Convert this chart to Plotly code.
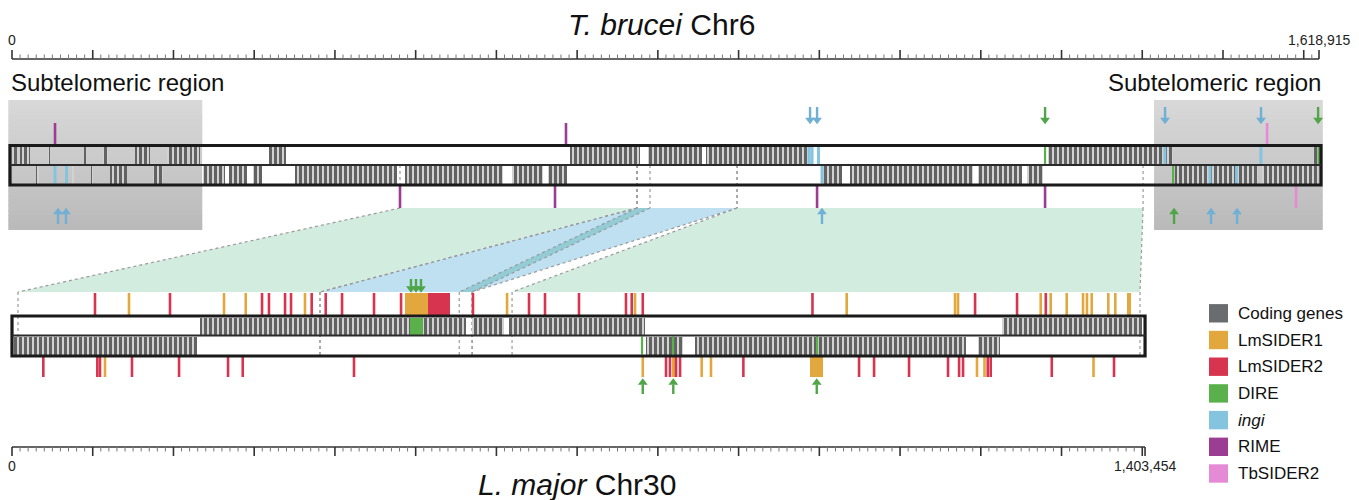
import plotly.graph_objects as go

# ------------------------------------------------------------------ DATA (kb)
TB_LEN = 1618.915          # T. brucei Chr6 length (kb)
LM_LEN = 1403.454          # L. major Chr30 length (kb)
TB_TICK_LABELS = ["0", "1,618,915"]
LM_TICK_LABELS = ["0", "1,403,454"]

SUBTELOMERIC = [(-4.6, 235.7), (1414.6, 1623.6)]

# coding-gene clusters (start, end) kb
TB_GENES_PLUS = [(1, 6), (10, 22), (45, 47), (89, 92), (113, 119), (152, 171), (192, 217),
                 (220, 233), (318, 339), (691, 778), (788, 855), (860, 986), (1283, 1438),
                 (1611, 1617)]
TB_GENES_MINUS = [(30, 33), (74, 77), (98, 100), (121, 142), (175, 187), (237, 264), (269, 291),
                  (298, 310), (351, 477), (487, 608), (619, 658), (664, 688), (1005, 1028),
                  (1038, 1190), (1197, 1251), (1257, 1277), (1441, 1543), (1548, 1618)]
LM_GENES_PLUS = [(233, 562), (570, 609), (616, 784), (1226, 1400)]
LM_GENES_MINUS = [(2.5, 229), (785, 831), (846, 1182), (1197, 1224)]

# elements inside the strands (kb)
TB_INGI_IN_PLUS = [987.5, 991.0, 999.0, 1428.0, 1547.0]
TB_INGI_IN_MINUS = [53.3, 67.5, 1003.3, 1483.9, 1516.8]
TB_DIRE_IN_PLUS = [1279.6, 1618.5]
TB_DIRE_IN_MINUS = [1438.2]
LM_DIRE_IN_PLUS = [(493.0, 509.0)]
LM_DIRE_IN_MINUS = [780.4, 818.8, 997.2]

# T. brucei repeat marks
TB_RIME_ABOVE = [53.3, 686.2]
TB_RIME_BELOW = [480.6, 672.6, 997.2, 1279.6]
TB_SIDER2_ABOVE = [1554.6]
TB_SIDER2_BELOW = [1590.5]
TB_INGI_ARROWS_ABOVE = [988.5, 997.2, 1428.2, 1547.1]
TB_DIRE_ARROWS_ABOVE = [1279.6, 1617.8]
TB_INGI_ARROWS_BELOW = [57.0, 66.9, 1003.3, 1485.2, 1517.4]
TB_DIRE_ARROWS_BELOW = [1439.4]

# L. major repeat marks
LM_SIDER2_ABOVE = [102.8, 195.7, 309.7, 318.3, 338.2, 345.6, 371.2, 388.6, 408.8, 448.4, 481.9,
                   571.0, 640.4, 660.2, 702.3, 760.5, 767.6, 781.3, 991.5, 1192.9, 1244.9, 1280.5]
LM_SIDER2_ABOVE_BLOCKS = [(515.3, 542.5)]
LM_SIDER1_ABOVE = [144.9, 262.6, 289.5, 362.9, 613.2, 771.7, 1033.9, 1168.1, 1171.8, 1274.2,
                   1286.6, 1306.4, 1326.6, 1331.5, 1337.4, 1357.9, 1366.6]
LM_SIDER1_ABOVE_BLOCKS = [(486.8, 515.3), (1381.2, 1386.2)]
LM_SIDER2_BELOW = [38.8, 105.7, 109.0, 148.6, 206.9, 267.6, 285.8, 423.6, 810.1, 815.0, 822.5,
                   827.5, 905.9, 1049.2, 1067.8, 1111.1, 1159.4, 1173.1, 1178.0, 1208.6, 1212.3,
                   1287.9, 1365.0]
LM_SIDER1_BELOW = [115.2, 781.3, 854.3, 865.8, 1195.3, 1204.6, 1339.6]
LM_SIDER1_BELOW_BLOCKS = [(817.5, 822.5), (988.5, 1004.6)]
LM_DIRE_ARROWS_ABOVE = [494.2, 500.4, 506.6]
LM_DIRE_ARROWS_BELOW = [781.3, 819.1, 996.8]

# synteny blocks: T. brucei start/end -> L. major start/end (kb)
SYN_TB_START = [480.6, 774.2, 774.2, 898.1]
SYN_TB_END = [774.2, 898.1, 790.3, 1401.0]
SYN_LM_START = [7.4, 381.5, 554.0, 619.4]
SYN_LM_END = [381.5, 569.8, 570.0, 1397.2]
SYN_KIND = ["collinear", "ingi", "overlap", "collinear"]

LEGEND_NAMES = ["Coding genes", "LmSIDER1", "LmSIDER2", "DIRE", "<i>ingi</i>", "RIME", "TbSIDER2"]

# ------------------------------------------------------------------ STYLE
C_GENE = "#6b6c6f"
C_SIDER1 = "#e2a83d"
C_SIDER2 = "#d6344f"
C_DIRE = "#5ab04b"
C_INGI = "#84c4df"
C_RIME = "#9b3d92"
C_TBSIDER2 = "#e58bd6"
C_INGI_ARROW = "#6fb0d4"
C_DIRE_ARROW = "#4fa548"
LEGEND_COLORS = [C_GENE, C_SIDER1, C_SIDER2, C_DIRE, C_INGI, C_RIME, C_TBSIDER2]
RIBBON_COLORS = {"collinear": "#d3ece0", "ingi": "#bee0f1", "overlap": "#93ccd5"}
FONT = "Liberation Sans, Arial, Helvetica, sans-serif"

# page geometry (the html body adds an 8 px margin)
W, H = 1359, 500
OFF = 8
FIG_W, FIG_H = W - OFF, H - OFF
X0_PX = 12.0
KB_PER_PX = TB_LEN / 1307.0
X_RANGE = [(OFF - X0_PX) * KB_PER_PX, (W - X0_PX) * KB_PER_PX]


def px2kb(px):
    return (px - X0_PX) * KB_PER_PX


def px2paper(px):
    return (px - OFF) / FIG_W


TB_RULER_Y, LM_RULER_Y = 59, 447
TB_BOX, TB_MID = (145.5, 185.0), 165.0
TB_PLUS, TB_MINUS = (147.0, 164.0), (166.0, 183.5)
LM_BOX, LM_MID = (316.0, 356.0), 335.5
LM_PLUS, LM_MINUS = (317.5, 334.5), (336.5, 354.5)
RIB_TOP, RIB_BOT = 208.0, 292.0
SUB_Y = (100.0, 230.0)
TB_ABOVE, TB_BELOW = (123, 145), (186, 208)
LM_ABOVE, LM_BELOW = (293, 315), (357, 377)

fig = go.Figure()
shapes = []
annotations = []

# subtelomeric grey regions (vertical gradient as thin bands)
NB = 26
for (a, b) in SUBTELOMERIC:
    for i in range(NB):
        ya = SUB_Y[0] + (SUB_Y[1] - SUB_Y[0]) * i / NB
        yb = SUB_Y[0] + (SUB_Y[1] - SUB_Y[0]) * (i + 1) / NB
        v = round(216 - (216 - 186) * i / (NB - 1))
        shapes.append(dict(type="rect", xref="x", yref="y", x0=a, x1=b, y0=ya,
                           y1=min(yb + 0.6, SUB_Y[1]),
                           fillcolor="#%02x%02x%02x" % (v, v, v), line=dict(width=0), layer="below"))

# white chromosome backgrounds
shapes.append(dict(type="rect", xref="x", yref="y", x0=SUBTELOMERIC[0][1], x1=SUBTELOMERIC[1][0],
                   y0=TB_BOX[0], y1=TB_BOX[1], fillcolor="white", line=dict(width=0), layer="below"))
shapes.append(dict(type="rect", xref="x", yref="y", x0=0, x1=LM_LEN,
                   y0=LM_BOX[0], y1=LM_BOX[1], fillcolor="white", line=dict(width=0), layer="below"))

# synteny ribbons
for ts, te, ls, le, k in zip(SYN_TB_START, SYN_TB_END, SYN_LM_START, SYN_LM_END, SYN_KIND):
    path = f"M {ts},{RIB_TOP} L {te},{RIB_TOP} L {le},{RIB_BOT} L {ls},{RIB_BOT} Z"
    shapes.append(dict(type="path", xref="x", yref="y", path=path, fillcolor=RIBBON_COLORS[k],
                       line=dict(width=0), layer="below"))
dot = dict(color="#9a9a9a", width=1.2, dash="dot")
for ts, te, ls, le in zip(SYN_TB_START, SYN_TB_END, SYN_LM_START, SYN_LM_END):
    for t, l in ((ts, ls), (te, le)):
        shapes.append(dict(type="line", xref="x", yref="y", x0=t, x1=l, y0=RIB_TOP, y1=RIB_BOT,
                           line=dot, layer="below"))
        shapes.append(dict(type="line", xref="x", yref="y", x0=t, x1=t, y0=TB_MID, y1=RIB_TOP,
                           line=dot, layer="below"))
        shapes.append(dict(type="line", xref="x", yref="y", x0=l, x1=l, y0=RIB_BOT, y1=LM_BOX[1] - 1,
                           line=dot, layer="below"))


# ---------------------------------------------------------------- helpers
def add_blocks(intervals, yr, color, pattern=False):
    if not intervals:
        return
    marker = dict(color=color, line=dict(width=0))
    if pattern:
        marker = dict(color="#d0d0d0", line=dict(width=0),
                      pattern=dict(shape="|", fgcolor="#626262", bgcolor="#d2d2d2",
                                   size=5, solidity=0.6, fillmode="replace"))
    fig.add_trace(go.Bar(orientation="h", base=[s for s, e in intervals],
                         x=[e - s for s, e in intervals],
                         y=[(yr[0] + yr[1]) / 2] * len(intervals),
                         width=[yr[1] - yr[0]] * len(intervals),
                         marker=marker, hoverinfo="skip"))


def add_ticks(xs, yr, color, width=2.6):
    xx, yy = [], []
    for p in xs:
        xx += [p, p, None]
        yy += [yr[0], yr[1], None]
    fig.add_trace(go.Scatter(x=xx, y=yy, mode="lines", line=dict(color=color, width=width),
                             hoverinfo="skip"))


def add_arrows(xs, tail, tip, color):
    down = tip > tail
    head = 6
    stem_end = tip - head if down else tip + head
    add_ticks(xs, (tail, stem_end + (1 if down else -1)), color, 2.4)
    fig.add_trace(go.Scatter(x=xs, y=[(tip - head / 2) if down else (tip + head / 2)] * len(xs),
                             mode="markers",
                             marker=dict(symbol="triangle-down" if down else "triangle-up",
                                         size=8.5, color=color, line=dict(width=0)),
                             hoverinfo="skip"))


# coding genes
add_blocks(TB_GENES_PLUS, TB_PLUS, C_GENE, pattern=True)
add_blocks(TB_GENES_MINUS, TB_MINUS, C_GENE, pattern=True)
add_blocks(LM_GENES_PLUS, LM_PLUS, C_GENE, pattern=True)
add_blocks(LM_GENES_MINUS, LM_MINUS, C_GENE, pattern=True)

# element blocks
add_blocks(LM_DIRE_IN_PLUS, LM_PLUS, C_DIRE)
add_blocks(LM_SIDER2_ABOVE_BLOCKS, LM_ABOVE, C_SIDER2)
add_blocks(LM_SIDER1_ABOVE_BLOCKS, LM_ABOVE, C_SIDER1)
add_blocks(LM_SIDER1_BELOW_BLOCKS, LM_BELOW, C_SIDER1)

# in-strand element lines
add_ticks(TB_INGI_IN_PLUS, TB_PLUS, C_INGI, 3)
add_ticks(TB_INGI_IN_MINUS, TB_MINUS, C_INGI, 3)
add_ticks(TB_DIRE_IN_PLUS, TB_PLUS, C_DIRE, 2.2)
add_ticks(TB_DIRE_IN_MINUS, TB_MINUS, C_DIRE, 2.2)
add_ticks(LM_DIRE_IN_MINUS, LM_MINUS, C_DIRE, 2.2)

# repeat ticks
add_ticks(TB_RIME_ABOVE, TB_ABOVE, C_RIME)
add_ticks(TB_RIME_BELOW, TB_BELOW, C_RIME)
add_ticks(TB_SIDER2_ABOVE, TB_ABOVE, C_TBSIDER2)
add_ticks(TB_SIDER2_BELOW, TB_BELOW, C_TBSIDER2)
add_ticks(LM_SIDER2_ABOVE, LM_ABOVE, C_SIDER2)
add_ticks(LM_SIDER1_ABOVE, LM_ABOVE, C_SIDER1)
add_ticks(LM_SIDER2_BELOW, LM_BELOW, C_SIDER2)
add_ticks(LM_SIDER1_BELOW, LM_BELOW, C_SIDER1)

# arrows
add_arrows(TB_INGI_ARROWS_ABOVE, 107, 123, C_INGI_ARROW)
add_arrows(TB_DIRE_ARROWS_ABOVE, 107, 123, C_DIRE_ARROW)
add_arrows(TB_INGI_ARROWS_BELOW, 224, 209, C_INGI_ARROW)
add_arrows(TB_DIRE_ARROWS_BELOW, 224, 209, C_DIRE_ARROW)
add_arrows(LM_DIRE_ARROWS_ABOVE, 279, 291.5, C_DIRE_ARROW)
add_arrows(LM_DIRE_ARROWS_BELOW, 394, 379.5, C_DIRE_ARROW)

# chromosome frames
for (x0, x1), (y0, y1), ym in (((px2kb(10), px2kb(1321)), TB_BOX, TB_MID),
                               ((0, LM_LEN), LM_BOX, LM_MID)):
    shapes.append(dict(type="rect", xref="x", yref="y", x0=x0, x1=x1, y0=y0, y1=y1,
                       fillcolor="rgba(0,0,0,0)", line=dict(color="#1a1a1a", width=3.2), layer="above"))
    shapes.append(dict(type="line", xref="x", yref="y", x0=x0, x1=x1, y0=ym, y1=ym,
                       line=dict(color="#2a2a2a", width=2), layer="above"))


# rulers
def ruler(length, y, direction):
    xs_maj, ys_maj, xs_min, ys_min = [], [], [], []
    k = 0
    while k * 10 <= length + 1e-9:
        p = k * 10
        if k % 10 == 0:
            xs_maj += [p, p, None]
            ys_maj += [y, y + direction * 9, None]
        else:
            xs_min += [p, p, None]
            ys_min += [y, y + direction * 4.5, None]
        k += 1
    xs_maj += [length, length, None]
    ys_maj += [y, y + direction * 9, None]
    fig.add_trace(go.Scatter(x=[0, length], y=[y, y], mode="lines",
                             line=dict(color="#333333", width=1.6), hoverinfo="skip"))
    fig.add_trace(go.Scatter(x=xs_maj, y=ys_maj, mode="lines",
                             line=dict(color="#333333", width=1.6), hoverinfo="skip"))
    fig.add_trace(go.Scatter(x=xs_min, y=ys_min, mode="lines",
                             line=dict(color="#777777", width=1), hoverinfo="skip"))


ruler(TB_LEN, TB_RULER_Y, -1)
ruler(LM_LEN, LM_RULER_Y, 1)

for x, t in zip([0, TB_LEN], TB_TICK_LABELS):
    annotations.append(dict(x=x, y=39.5, xref="x", yref="y", text=t, showarrow=False,
                            font=dict(size=14, color="#222", family=FONT)))
for x, t in zip([0, LM_LEN], LM_TICK_LABELS):
    annotations.append(dict(x=x, y=466, xref="x", yref="y", text=t, showarrow=False,
                            font=dict(size=14, color="#222", family=FONT)))

annotations.append(dict(x=px2paper(661), y=24, xref="paper", yref="y", text="<i>T. brucei</i> Chr6",
                        showarrow=False, font=dict(size=30, color="#111", family=FONT)))
annotations.append(dict(x=px2paper(577), y=484, xref="paper", yref="y", text="<i>L. major</i> Chr30",
                        showarrow=False, font=dict(size=30, color="#111", family=FONT)))
annotations.append(dict(x=px2paper(9), y=82, xref="paper", yref="y", text="Subtelomeric region",
                        xanchor="left", showarrow=False, font=dict(size=24, color="#111", family=FONT)))
annotations.append(dict(x=px2paper(1323), y=82, xref="paper", yref="y", text="Subtelomeric region",
                        xanchor="right", showarrow=False, font=dict(size=24, color="#111", family=FONT)))

# legend
for i, (name, col) in enumerate(zip(LEGEND_NAMES, LEGEND_COLORS)):
    cy = 313.3 + i * 26.7
    shapes.append(dict(type="rect", xref="paper", yref="y", x0=px2paper(1209), x1=px2paper(1228),
                       y0=cy - 9.2, y1=cy + 9.2, fillcolor=col, line=dict(width=0), layer="above"))
    annotations.append(dict(x=px2paper(1236), y=cy, xref="paper", yref="y", text=name, xanchor="left",
                            showarrow=False, font=dict(size=17, color="#111", family=FONT)))

fig.update_layout(
    width=FIG_W, height=FIG_H, margin=dict(l=0, r=0, t=0, b=0, pad=0),
    paper_bgcolor="white", plot_bgcolor="rgba(0,0,0,0)",
    showlegend=False, barmode="overlay", bargap=0,
    xaxis=dict(range=X_RANGE, visible=False, showgrid=False, zeroline=False, fixedrange=True),
    yaxis=dict(range=[H, OFF], visible=False, showgrid=False, zeroline=False, fixedrange=True),
    shapes=shapes, annotations=annotations,
)
fig.write_html("out.html")
